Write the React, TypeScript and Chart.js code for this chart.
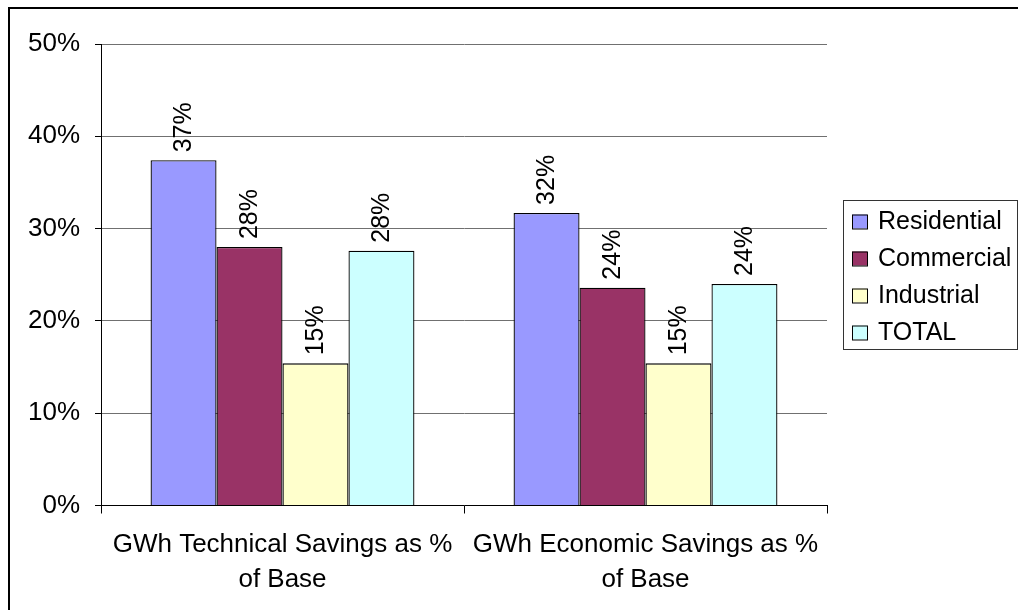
import React, { useEffect, useRef } from "react";
import { Chart, registerables } from "chart.js";

Chart.register(...registerables);

const categories: string[][] = [
  ["GWh Technical Savings as %", "of Base"],
  ["GWh Economic Savings as %", "of Base"],
];
const seriesNames = ["Residential", "Commercial", "Industrial", "TOTAL"];
const residential = [37.4, 31.7];
const commercial = [28.0, 23.6];
const industrial = [15.4, 15.4];
const total = [27.6, 24.0];
const seriesColors = ["#9999FF", "#993366", "#FFFFCC", "#CCFFFF"];
const yMin = 0;
const yMax = 50;
const yStep = 10;

const FONT = "'Liberation Sans', Arial, sans-serif";

const framePlugin = {
  id: "frame",
  beforeDraw(chart: any) {
    const ctx = chart.ctx;
    ctx.save();
    ctx.fillStyle = "#fff";
    ctx.fillRect(0, 0, chart.width, chart.height);
    ctx.strokeStyle = "#000";
    ctx.lineWidth = 2;
    ctx.strokeRect(9, 8, 1200, 1200);
    ctx.restore();
  },
};

const valueLabelPlugin = {
  id: "valueLabels",
  afterDatasetsDraw(chart: any) {
    const ctx = chart.ctx;
    ctx.save();
    ctx.fillStyle = "#000";
    ctx.font = `25px ${FONT}`;
    ctx.textAlign = "left";
    ctx.textBaseline = "middle";
    chart.data.datasets.forEach((ds: any, i: number) => {
      const meta = chart.getDatasetMeta(i);
      meta.data.forEach((bar: any, j: number) => {
        const v = ds.data[j];
        ctx.save();
        ctx.translate(bar.x + 1, bar.y - 8);
        ctx.rotate(-Math.PI / 2);
        ctx.fillText(Math.round(v) + "%", 0, 0);
        ctx.restore();
      });
    });
    ctx.restore();
  },
};

const legendPlugin = {
  id: "boxLegend",
  afterDraw(chart: any) {
    const ctx = chart.ctx;
    ctx.save();
    const left = 843;
    const top = 200;
    const w = 174;
    const h = 149;
    ctx.strokeStyle = "#333";
    ctx.lineWidth = 1;
    ctx.strokeRect(left + 0.5, top + 0.5, w, h);
    ctx.font = `25px ${FONT}`;
    ctx.textBaseline = "middle";
    ctx.textAlign = "left";
    chart.data.datasets.forEach((ds: any, i: number) => {
      const cy = 221.5 + i * 37;
      ctx.fillStyle = ds.backgroundColor;
      ctx.fillRect(852, cy - 7, 15, 14);
      ctx.strokeStyle = "#000";
      ctx.strokeRect(852.5, cy - 6.5, 15, 14);
      ctx.fillStyle = "#000";
      ctx.fillText(ds.label, 878, cy + 1);
    });
    ctx.restore();
  },
};

export default function App() {
  const ref = useRef<HTMLCanvasElement>(null);
  useEffect(() => {
    if (!ref.current) return;
    const values = [residential, commercial, industrial, total];
    const chart = new Chart(ref.current, {
      type: "bar",
      data: {
        labels: categories,
        datasets: seriesNames.map((name, i) => ({
          label: name,
          data: values[i],
          backgroundColor: seriesColors[i],
          borderColor: "#000",
          borderWidth: 1.3,
          borderSkipped: "bottom",
          categoryPercentage: 0.727,
          barPercentage: 1,
        })),
      },
      options: {
        responsive: false,
        animation: false,
        layout: { padding: { left: 0, top: 44, right: 191, bottom: 0 } },
        plugins: {
          legend: { display: false },
          tooltip: { enabled: false },
        },
        scales: {
          x: {
            grid: {
              display: true,
              drawOnChartArea: false,
              offset: true,
              tickLength: 8,
              tickColor: "#000",
            },
            border: { color: "#000", width: 1 },
            ticks: {
              color: "#000",
              font: { family: FONT, size: 26, lineHeight: 1.35 },
              maxRotation: 0,
              minRotation: 0,
              autoSkip: false,
              padding: 14,
            },
            afterFit: (s: any) => {
              s.height = 104.5;
            },
          },
          y: {
            min: yMin,
            max: yMax,
            grid: {
              color: "#707070",
              tickLength: 6,
              tickColor: "#000",
            },
            border: { color: "#000", width: 1 },
            ticks: {
              stepSize: yStep,
              color: "#000",
              font: { family: FONT, size: 26 },
              padding: 15,
              callback: (v: any) => v + "%",
            },
            afterFit: (s: any) => {
              s.width = 101;
            },
          },
        },
      },
      plugins: [framePlugin, valueLabelPlugin, legendPlugin],
    });
    return () => chart.destroy();
  }, []);
  return (
    <div style={{ position: "absolute", left: 0, top: 0, width: 1018, height: 610 }}>
      <canvas ref={ref} width={1018} height={610} style={{ display: "block" }} />
    </div>
  );
}
